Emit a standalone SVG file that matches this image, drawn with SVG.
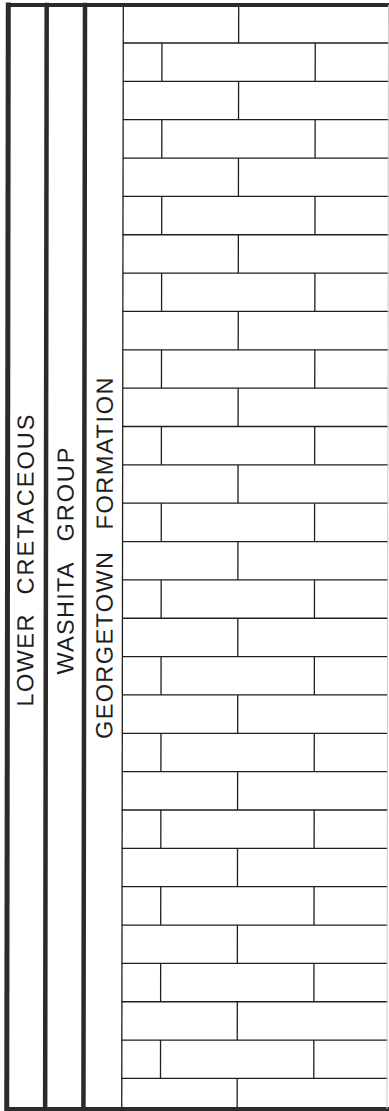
<svg xmlns="http://www.w3.org/2000/svg" width="389" height="1111" viewBox="0 0 389 1111">
<style>
.frame{stroke:#2b2b2b;fill:none;stroke-linecap:square}
.brick{stroke:#1e1e1e;stroke-width:1.3;fill:none}
.lbl{font-family:"Liberation Sans",Arial,sans-serif;font-size:23.5px;fill:#1e1e1e}
</style>
<rect width="389" height="1111" fill="#ffffff"/>
<g transform="matrix(1 0 -0.0014 1 0 0)">
<g id="lithology">
<path class="brick" d="M123.3 5V1108"/>
<path class="brick" d="M123 43H389M123 81.35H389M123 119.7H389M123 158.05H389M123 196.4H389M123 234.75H389M123 273.1H389M123 311.45H389M123 349.8H389M123 388.15H389M123 426.5H389M123 464.85H389M123 503.2H389M123 541.55H389M123 579.9H389M123 618.25H389M123 656.6H389M123 694.95H389M123 733.3H389M123 771.65H389M123 810H389M123 848.35H389M123 886.7H389M123 925.05H389M123 963.4H389M123 1001.75H389M123 1040.1H389M123 1078.45H389"/>
<path class="brick" d="M238.7 5V43M238.7 81.35V119.7M238.7 158.05V196.4M238.7 234.75V273.1M238.7 311.45V349.8M238.7 388.15V426.5M238.7 464.85V503.2M238.7 541.55V579.9M238.7 618.25V656.6M238.7 694.95V733.3M238.7 771.65V810M238.7 848.35V886.7M238.7 925.05V963.4M238.7 1001.75V1040.1M238.7 1078.45V1108"/>
<path class="brick" d="M162 43V81.35M315.3 43V81.35M162 119.7V158.05M315.3 119.7V158.05M162 196.4V234.75M315.3 196.4V234.75M162 273.1V311.45M315.3 273.1V311.45M162 349.8V388.15M315.3 349.8V388.15M162 426.5V464.85M315.3 426.5V464.85M162 503.2V541.55M315.3 503.2V541.55M162 579.9V618.25M315.3 579.9V618.25M162 656.6V694.95M315.3 656.6V694.95M162 733.3V771.65M315.3 733.3V771.65M162 810V848.35M315.3 810V848.35M162 886.7V925.05M315.3 886.7V925.05M162 963.4V1001.75M315.3 963.4V1001.75M162 1040.1V1078.45M315.3 1040.1V1078.45"/>
</g>
<g id="frame">
<line class="frame" x1="8.3" y1="5" x2="389" y2="5" stroke-width="4"/>
<line class="frame" x1="8.3" y1="1109" x2="389" y2="1109" stroke-width="4"/>
<line class="frame" x1="8.3" y1="5" x2="8.3" y2="1109" stroke-width="5"/>
<line class="frame" x1="46.7" y1="5" x2="46.7" y2="1109" stroke-width="4.5"/>
<line class="frame" x1="85" y1="5" x2="85" y2="1109" stroke-width="4.5"/>
<line x1="388.5" y1="5" x2="388.5" y2="1109" stroke="#c8c8c8" stroke-width="1"/>
</g>
<g id="system">
<text class="lbl" transform="translate(34.3,706.5) rotate(-90)" textLength="92" lengthAdjust="spacing">LOWER</text>
<text class="lbl" transform="translate(34.3,594.5) rotate(-90)" textLength="180" lengthAdjust="spacing">CRETACEOUS</text>
</g>
<g id="group">
<text class="lbl" transform="translate(74.3,674.5) rotate(-90)" textLength="112" lengthAdjust="spacing">WASHITA</text>
<text class="lbl" transform="translate(74.3,541.5) rotate(-90)" textLength="94" lengthAdjust="spacing">GROUP</text>
</g>
<g id="formation">
<text class="lbl" transform="translate(113.4,739) rotate(-90)" textLength="187" lengthAdjust="spacing">GEORGETOWN</text>
<text class="lbl" transform="translate(113.4,529.5) rotate(-90)" textLength="152" lengthAdjust="spacing">FORMATION</text>
</g>
</g>
</svg>
